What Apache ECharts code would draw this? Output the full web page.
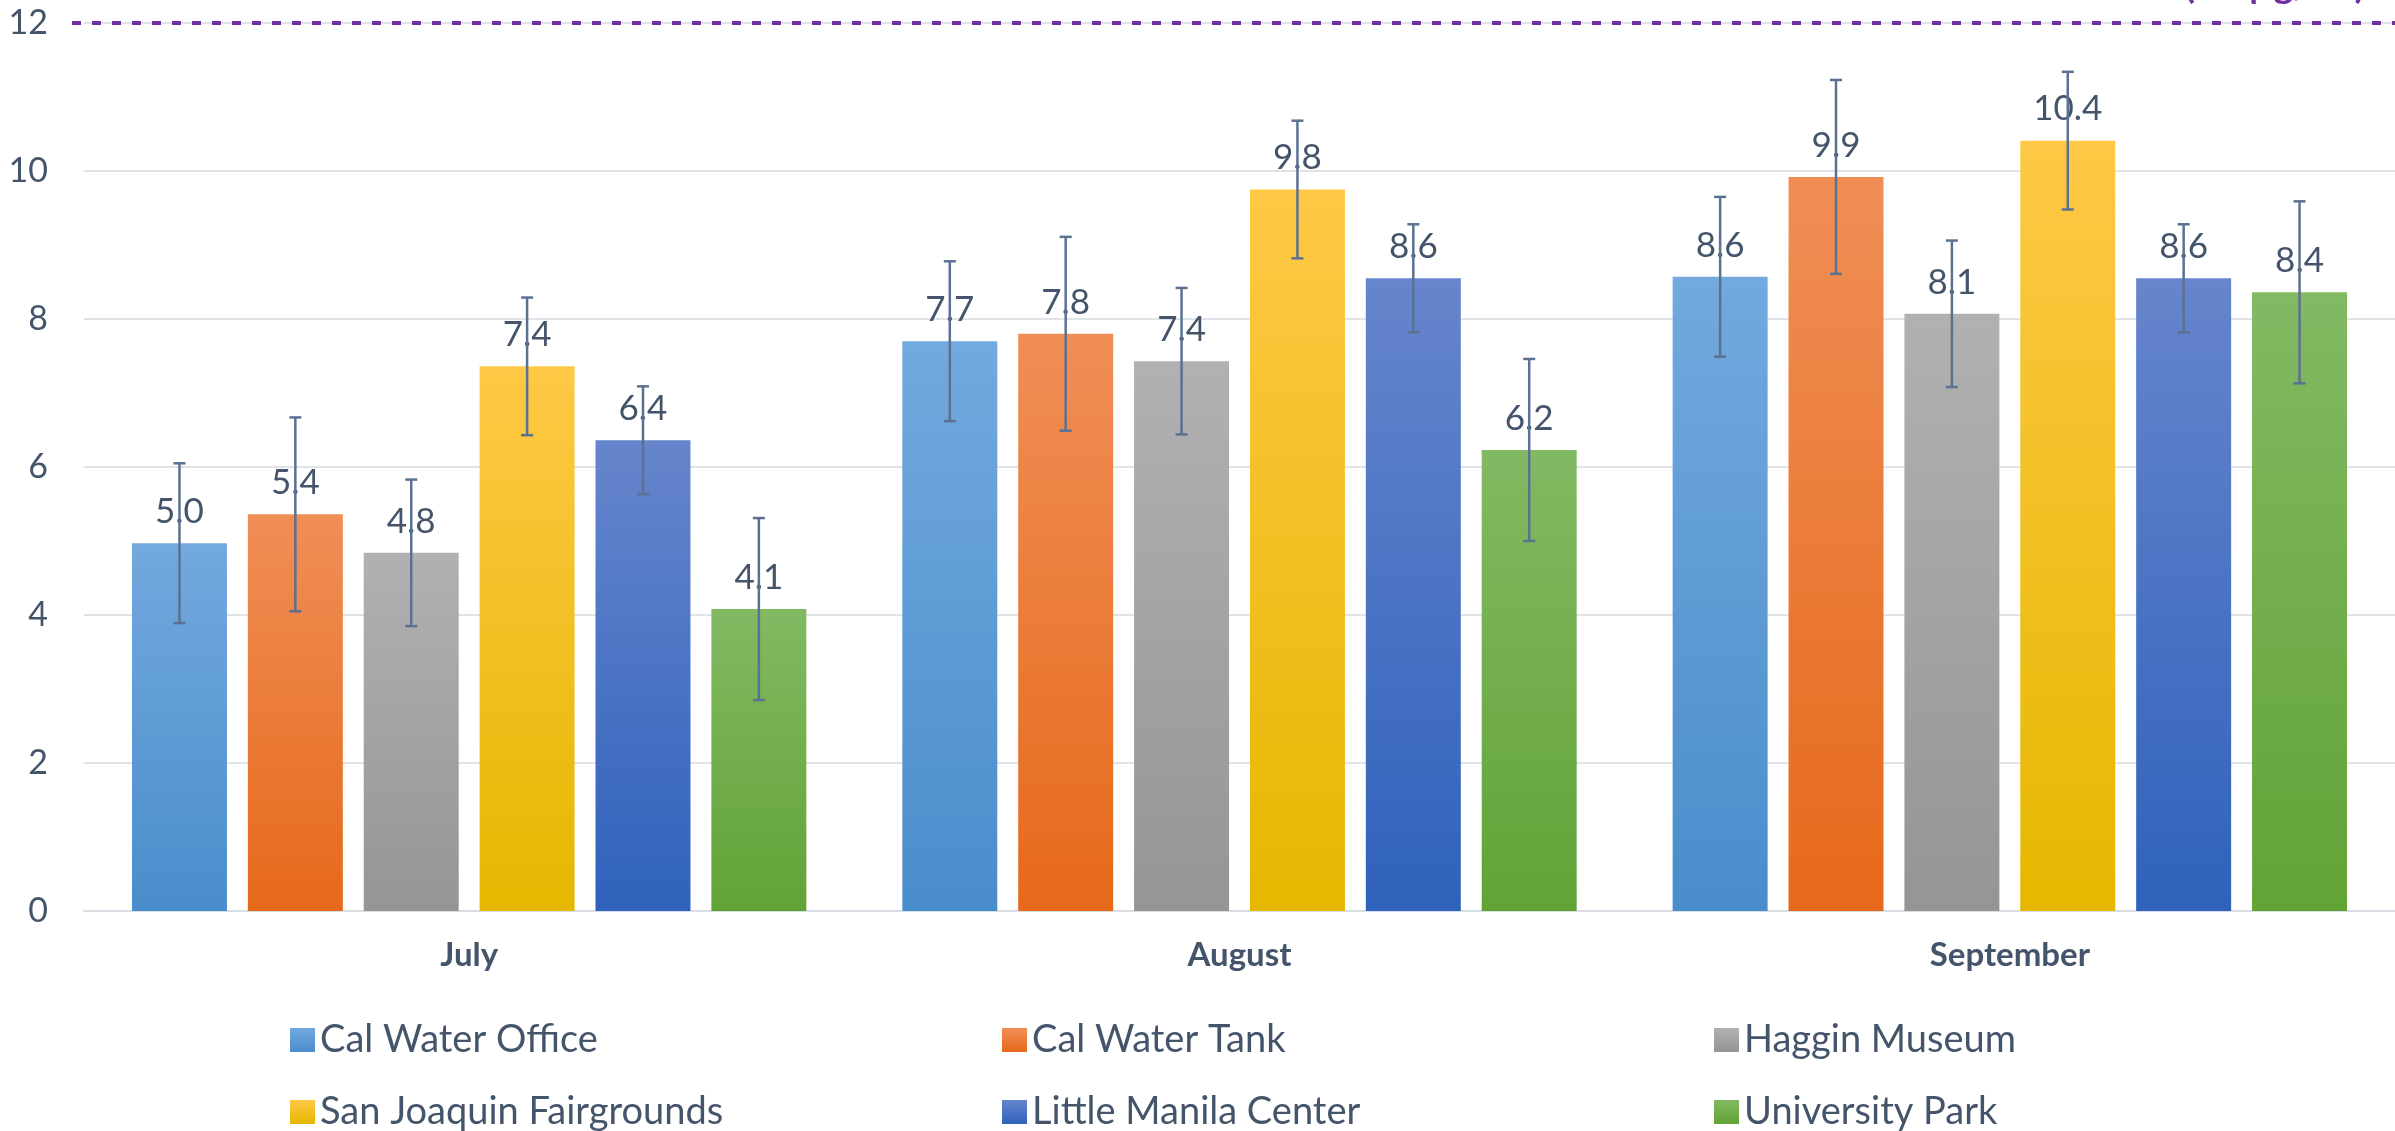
<!DOCTYPE html>
<html>
<head>
<meta charset="utf-8">
<script src="https://cdn.jsdelivr.net/npm/echarts@6/dist/echarts.min.js"></script>
<style>
html,body{margin:0;padding:0;background:#fff;}
#chart{width:2395px;height:1131px;}
</style>
</head>
<body>
<div id="chart"></div>
<script>
// ---- data ----
const categories = ['July', 'August', 'September'];
const siteNames = ['Cal Water Office', 'Cal Water Tank', 'Haggin Museum', 'San Joaquin Fairgrounds', 'Little Manila Center', 'University Park'];
const calWaterOffice = [4.97, 7.70, 8.57];
const calWaterTank = [5.36, 7.80, 9.92];
const hagginMuseum = [4.84, 7.43, 8.07];
const sanJoaquinFairgrounds = [7.36, 9.75, 10.41];
const littleManilaCenter = [6.36, 8.55, 8.55];
const universityPark = [4.08, 6.23, 8.36];
const calWaterOfficeErr = [1.08, 1.08, 1.08];
const calWaterTankErr = [1.31, 1.31, 1.31];
const hagginMuseumErr = [0.99, 0.99, 0.99];
const sanJoaquinFairgroundsErr = [0.93, 0.93, 0.93];
const littleManilaCenterErr = [0.73, 0.73, 0.73];
const universityParkErr = [1.23, 1.23, 1.23];
const yTicks = [0, 2, 4, 6, 8, 10, 12];
const standardValue = 12;
const standardLabel = 'California Annual PM2.5 Standard (12 µg/m³)';

// ---- styles ----
const values = [calWaterOffice, calWaterTank, hagginMuseum, sanJoaquinFairgrounds, littleManilaCenter, universityPark];
const errors = [calWaterOfficeErr, calWaterTankErr, hagginMuseumErr, sanJoaquinFairgroundsErr, littleManilaCenterErr, universityParkErr];
const gradients = [
  ['#72a9de', '#4a8dcc'],
  ['#f08e56', '#e6691b'],
  ['#b1b1b1', '#959595'],
  ['#ffc846', '#e6b700'],
  ['#6685cc', '#2f62bc'],
  ['#82b963', '#62a336']
];
const FONT = 'Lato';
const TEXT = '#44546a';
const BAR_FRAC = 0.1233;
const GAP_FRAC = 0.22;

const chart = echarts.init(document.getElementById('chart'), null, {renderer: 'canvas'});

const series = [];
siteNames.forEach((name, k) => {
  series.push({
    type: 'bar',
    name: name,
    data: values[k],
    barWidth: (BAR_FRAC * 100) + '%',
    barGap: (GAP_FRAC * 100) + '%',
    itemStyle: {
      color: new echarts.graphic.LinearGradient(0, 0, 0, 1, [
        {offset: 0, color: gradients[k][0]},
        {offset: 1, color: gradients[k][1]}
      ])
    },
    label: {
      show: true,
      position: 'top',
      distance: 14,
      fontFamily: FONT,
      fontSize: 35,
      lineHeight: 35,
      color: TEXT,
      formatter: p => p.value.toFixed(1)
    },
    z: 2
  });
});

siteNames.forEach((name, k) => {
  series.push({
    type: 'custom',
    name: name + ' error',
    silent: true,
    z: 10,
    data: categories.map((c, i) => [i, values[k][i], errors[k][i]]),
    renderItem: function (params, api) {
      const ci = api.value(0), v = api.value(1), e = api.value(2);
      const band = api.size([1, 0])[0];
      const bw = band * BAR_FRAC;
      const gap = bw * GAP_FRAC;
      const c = api.coord([ci, v]);
      const x = c[0] + (k - (siteNames.length - 1) / 2) * (bw + gap);
      const yt = api.coord([ci, v + e])[1];
      const yb = api.coord([ci, v - e])[1];
      const st = {stroke: '#5b7191', lineWidth: 2.5};
      const hw = 6;
      return {
        type: 'group',
        children: [
          {type: 'line', shape: {x1: x, y1: yt, x2: x, y2: yb}, style: st},
          {type: 'line', shape: {x1: x - hw, y1: yt, x2: x + hw, y2: yt}, style: st},
          {type: 'line', shape: {x1: x - hw, y1: yb, x2: x + hw, y2: yb}, style: st}
        ]
      };
    }
  });
});

const legendCols = [285, 997, 1709];
const legendRows = [1014, 1086];
const legends = siteNames.map((name, k) => ({
  show: true,
  data: [name],
  left: legendCols[k % 3],
  top: legendRows[Math.floor(k / 3)],
  orient: 'horizontal',
  itemWidth: 25,
  itemHeight: 24,
  itemGap: 0,
  itemTextGap: 10,
  icon: 'rect',
  selectedMode: false,
  textStyle: {fontFamily: FONT, fontSize: 38, lineHeight: 42, color: TEXT}
}));

chart.setOption({
  animation: false,
  backgroundColor: '#ffffff',
  grid: {left: 84, right: 0, top: 23, bottom: 220, containLabel: false},
  legend: legends,
  xAxis: {
    type: 'category',
    data: categories,
    axisTick: {show: false},
    axisLine: {show: true, lineStyle: {color: '#d9dee5', width: 2}},
    axisLabel: {fontFamily: FONT, fontWeight: 'bold', fontSize: 33, color: TEXT, margin: 28}
  },
  yAxis: {
    type: 'value',
    min: yTicks[0],
    max: yTicks[yTicks.length - 1],
    interval: yTicks[1] - yTicks[0],
    axisLine: {show: false},
    axisTick: {show: false},
    axisLabel: {fontFamily: FONT, fontSize: 34, color: TEXT, margin: 36},
    splitLine: {show: true, lineStyle: {color: '#e0e4e9', width: 2}}
  },
  graphic: [{
    type: 'text',
    right: 30,
    top: -33,
    style: {
      text: standardLabel,
      fontFamily: FONT,
      fontWeight: 'bold',
      fontSize: 38,
      fill: '#7030a0'
    },
    silent: true
  }],
  series: series
});

// standard line: y from the value axis scale, extending slightly left of the plot like the reference
const py = chart.convertToPixel({yAxisIndex: 0}, standardValue);
chart.setOption({
  series: [{
    markLine: {
      silent: true,
      symbol: ['none', 'none'],
      label: {show: false},
      lineStyle: {color: '#7030a0', width: 4, type: [9, 11]},
      data: [[{x: 72, y: py}, {x: chart.getWidth(), y: py}]],
      z: 5
    }
  }]
});
</script>
</body>
</html>
